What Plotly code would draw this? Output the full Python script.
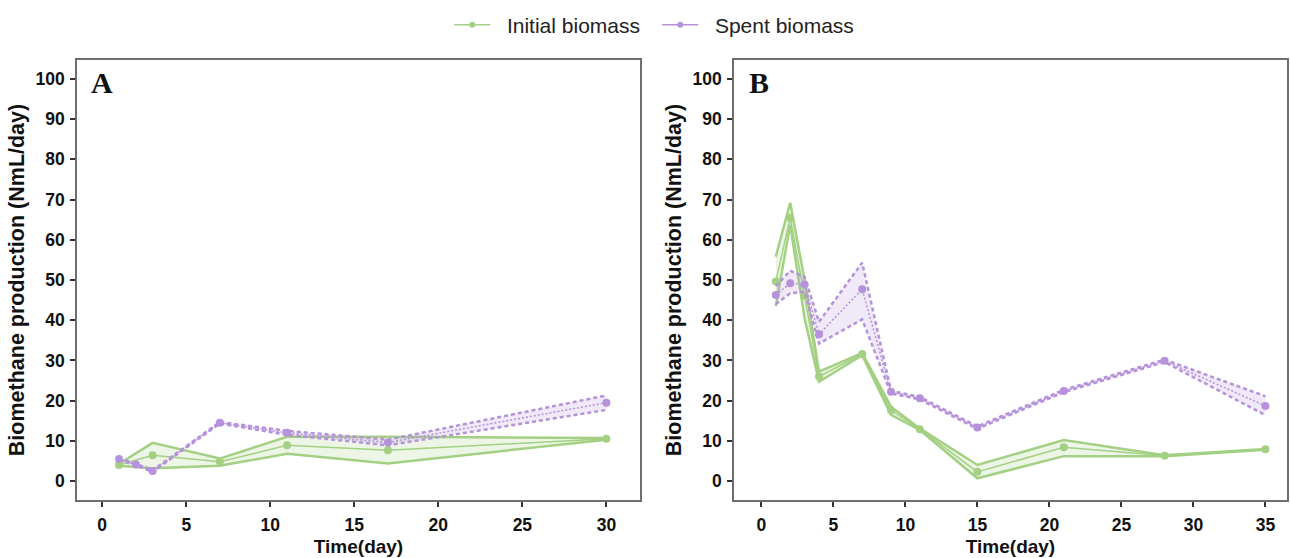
import plotly.graph_objects as go

# ---------------- Data ----------------
# Panel A
a_init_days = [1, 3, 7, 11, 17, 30]
a_init_mean = [4.0, 6.4, 4.8, 8.9, 7.7, 10.5]
a_init_upper = [4.3, 9.5, 5.6, 11.0, 11.0, 10.7]
a_init_lower = [3.8, 3.2, 3.8, 6.8, 4.4, 10.3]

a_spent_days = [1, 2, 3, 7, 11, 17, 30]
a_spent_mean = [5.5, 4.1, 2.5, 14.5, 12.0, 9.6, 19.5]
a_spent_upper = [5.7, 4.3, 2.7, 14.7, 12.5, 10.3, 21.3]
a_spent_lower = [5.3, 3.9, 2.3, 14.3, 11.5, 8.9, 17.7]

# Panel B
b_init_days = [1, 2, 3, 4, 7, 9, 11, 15, 21, 28, 35]
b_init_mean = [49.6, 65.5, 46.0, 26.0, 31.6, 17.6, 12.9, 2.3, 8.4, 6.3, 7.9]
b_init_upper = [55.8, 69.2, 50.0, 27.2, 31.8, 18.5, 13.1, 4.0, 10.2, 6.4, 8.0]
b_init_lower = [43.5, 63.7, 40.5, 24.7, 31.3, 16.5, 12.7, 0.7, 6.2, 6.2, 7.8]

b_spent_days = [1, 2, 3, 4, 7, 9, 11, 15, 21, 28, 35]
b_spent_mean = [46.3, 49.2, 48.9, 36.5, 47.7, 22.2, 20.6, 13.3, 22.4, 29.9, 18.7]
b_spent_upper = [48.5, 52.3, 50.8, 39.6, 54.3, 22.5, 20.9, 13.6, 22.7, 30.2, 21.1]
b_spent_lower = [44.0, 46.7, 47.1, 34.2, 40.2, 21.8, 20.3, 13.0, 22.1, 29.6, 16.4]

y_ticks = list(range(0, 101, 10))
a_x_ticks = [0, 5, 10, 15, 20, 25, 30]
b_x_ticks = [0, 5, 10, 15, 20, 25, 30, 35]

series_names = ["Initial biomass", "Spent biomass"]

GREEN = "#a3d083"
GREEN_FILL = "rgba(163,208,131,0.2)"
PURPLE = "#b592db"
PURPLE_FILL = "rgba(181,146,219,0.2)"

fig = go.Figure()


def add_band(days, mean, upper, lower, color, fill, xa, ya, dashed):
    edge_dash = "4px,3px" if dashed else "solid"
    mean_dash = "2px,2px" if dashed else "solid"
    fig.add_trace(go.Scatter(x=days, y=lower, mode="lines",
                             line=dict(color=color, width=2.5, dash=edge_dash),
                             xaxis=xa, yaxis=ya, showlegend=False, hoverinfo="skip"))
    fig.add_trace(go.Scatter(x=days, y=upper, mode="lines", fill="tonexty", fillcolor=fill,
                             line=dict(color=color, width=2.5, dash=edge_dash),
                             xaxis=xa, yaxis=ya, showlegend=False, hoverinfo="skip"))
    fig.add_trace(go.Scatter(x=days, y=mean, mode="lines+markers",
                             line=dict(color=color, width=1.5, dash=mean_dash),
                             marker=dict(color=color, size=8),
                             xaxis=xa, yaxis=ya, showlegend=False))


add_band(a_init_days, a_init_mean, a_init_upper, a_init_lower, GREEN, GREEN_FILL, "x", "y", False)
add_band(a_spent_days, a_spent_mean, a_spent_upper, a_spent_lower, PURPLE, PURPLE_FILL, "x", "y", True)
add_band(b_init_days, b_init_mean, b_init_upper, b_init_lower, GREEN, GREEN_FILL, "x2", "y2", False)
add_band(b_spent_days, b_spent_mean, b_spent_upper, b_spent_lower, PURPLE, PURPLE_FILL, "x2", "y2", True)

# legend-only entries
for name, color in zip(series_names, [GREEN, PURPLE]):
    fig.add_trace(go.Scatter(x=[None], y=[None], mode="lines+markers", name="\u00a0\u00a0" + name,
                             line=dict(color=color, width=1.5),
                             marker=dict(color=color, size=6)))

axis_common = dict(showline=True, linecolor="#6e6e6e", linewidth=1.5, mirror=True,
                   ticks="outside", ticklen=5, tickwidth=2, tickcolor="#333333",
                   showgrid=False, zeroline=False, automargin=False,
                   tickfont=dict(family="Liberation Sans, Arial", size=17.5, color="#111111", weight="bold"))

ytitle_font = dict(family="Liberation Sans, Arial", size=21.5, color="#111111", weight="bold")
xtitle_font = dict(family="Liberation Sans, Arial", size=19, color="#111111", weight="bold")

fig.update_layout(
    width=1290, height=558,
    margin=dict(l=77, r=3, t=60, b=58),
    plot_bgcolor="white", paper_bgcolor="white",
    xaxis=dict(domain=[0, 0.4653], range=[-1.5, 32], tickvals=a_x_ticks, ticklabelstandoff=3,
               title=dict(text="Time(day)", font=xtitle_font, standoff=6), **axis_common),
    yaxis=dict(domain=[0, 1], range=[-4.7, 104.7], tickvals=y_ticks, ticklabelstandoff=2,
               title=dict(text="Biomethane production (NmL/day)", font=ytitle_font, standoff=5),
               **axis_common),
    xaxis2=dict(domain=[0.543, 1.0], range=[-1.9, 36.5], tickvals=b_x_ticks, anchor="y2",
                ticklabelstandoff=3,
                title=dict(text="Time(day)", font=xtitle_font, standoff=6), **axis_common),
    yaxis2=dict(domain=[0, 1], range=[-4.7, 104.7], tickvals=y_ticks, anchor="x2",
                ticklabelstandoff=2,
                title=dict(text="Biomethane production (NmL/day)", font=ytitle_font, standoff=5),
                **axis_common),
    legend=dict(orientation="h", xref="container", yref="container",
                x=0.5095, xanchor="center", y=0.955, yanchor="middle",
                traceorder="normal",
                font=dict(family="Liberation Sans, Arial", size=21, color="#222222"),
                itemwidth=36, tracegroupgap=0,
                entrywidth=157, entrywidthmode="pixels"),
    annotations=[
        dict(text="<b>A</b>", xref="x domain", yref="y domain", x=0.022, y=0.95,
             xanchor="left", yanchor="middle", showarrow=False,
             font=dict(family="Liberation Serif, Times New Roman", size=30, color="#111111")),
        dict(text="<b>B</b>", xref="x2 domain", yref="y2 domain", x=0.023, y=0.95,
             xanchor="left", yanchor="middle", showarrow=False,
             font=dict(family="Liberation Serif, Times New Roman", size=30, color="#111111")),
    ],
)

fig.write_html("out.html", config={"displayModeBar": False},
               post_script="document.body.style.margin='0';document.body.style.overflow='hidden';")
